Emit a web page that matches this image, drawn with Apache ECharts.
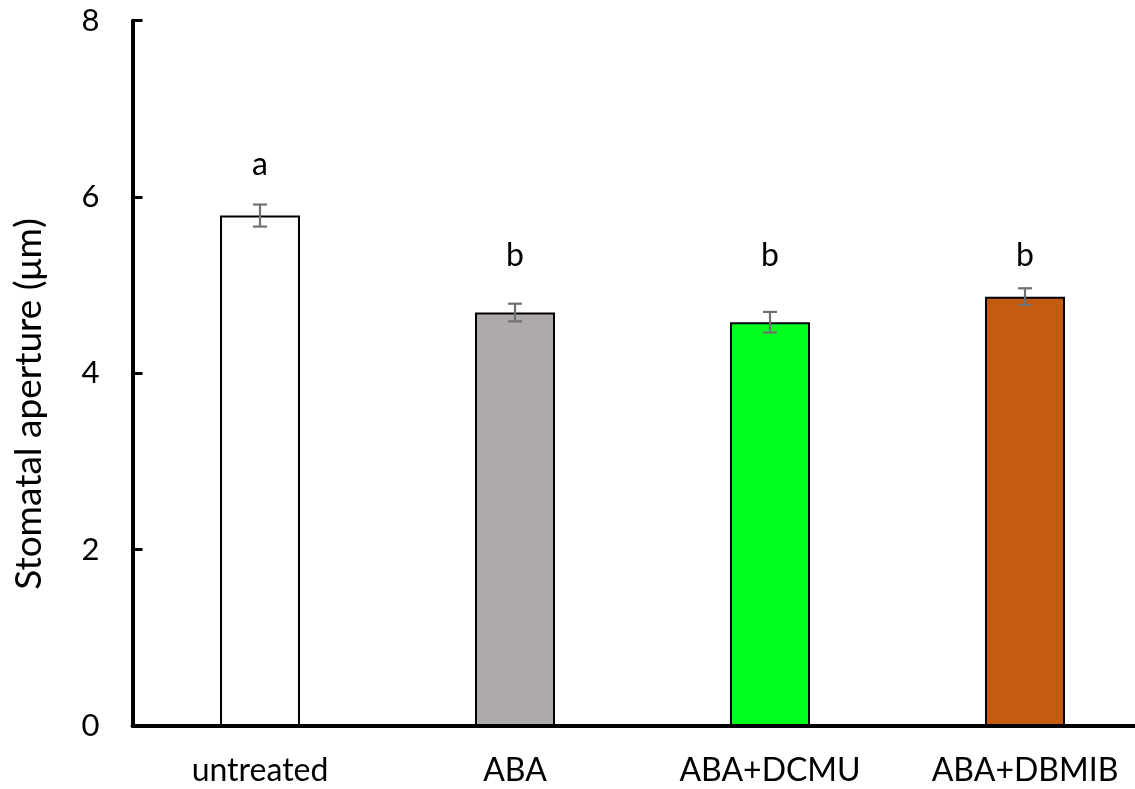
<!DOCTYPE html>
<html>
<head>
<meta charset="utf-8">
<script src="https://cdn.jsdelivr.net/npm/echarts@6/dist/echarts.min.js"></script>
<style>
html,body{margin:0;padding:0;background:#fff;}
#chart{width:1135px;height:789px;}
</style>
</head>
<body>
<div id="chart"></div>
<script>
var categories = ['untreated', 'ABA', 'ABA+DCMU', 'ABA+DBMIB'];
var values = [5.79, 4.69, 4.58, 4.87];
var errors = [0.125, 0.10, 0.117, 0.095];
var barColors = ['#FFFFFF', '#AEAAAA', '#00FF1F', '#C55A11'];
var letters = ['a', 'b', 'b', 'b'];
var letterY = [6.37, 5.34, 5.34, 5.34];
var yTicks = [0, 2, 4, 6, 8];

var FONT = 'Lato';
var chart = echarts.init(document.getElementById('chart'), null, {renderer: 'canvas'});

var option = {
  animation: false,
  backgroundColor: '#ffffff',
  grid: {left: 132.5, width: 1020, top: 20.7, bottom: 63, containLabel: false, outerBoundsMode: 'none'},
  xAxis: {
    type: 'category',
    data: categories,
    axisLine: {show: true, lineStyle: {color: '#000', width: 4}},
    axisTick: {show: false},
    axisLabel: {color: '#000', fontFamily: FONT, fontSize: 32, margin: 29}
  },
  yAxis: {
    type: 'value',
    min: yTicks[0],
    max: yTicks[yTicks.length - 1],
    interval: 2,
    axisLine: {show: true, lineStyle: {color: '#000', width: 4}},
    axisTick: {show: true, inside: true, length: 10, lineStyle: {color: '#000', width: 3}},
    axisLabel: {color: '#000', fontFamily: FONT, fontSize: 31, margin: 33},
    splitLine: {show: false}
  },
  graphic: [{
    type: 'text',
    x: 29, y: 404,
    rotation: Math.PI / 2,
    style: {
      text: 'Stomatal aperture (\u03bcm)',
      fill: '#000',
      font: '37px ' + FONT,
      align: 'center',
      verticalAlign: 'middle'
    }
  }],
  series: [
    {
      type: 'bar',
      barWidth: 80,
      data: values.map(function (v, i) {
        return {value: v, itemStyle: {color: barColors[i], borderColor: '#000', borderWidth: 2}};
      }),
      z: 2
    },
    {
      type: 'custom',
      z: 5,
      data: values.map(function (v, i) { return [i, v - errors[i], v + errors[i]]; }),
      renderItem: function (params, api) {
        var lo = api.coord([api.value(0), api.value(1)]);
        var hi = api.coord([api.value(0), api.value(2)]);
        var hw = 7;
        var st = {stroke: '#707070', lineWidth: 2.2};
        return {
          type: 'group',
          children: [
            {type: 'line', shape: {x1: lo[0], y1: lo[1], x2: hi[0], y2: hi[1]}, style: st},
            {type: 'line', shape: {x1: lo[0] - hw, y1: lo[1], x2: lo[0] + hw, y2: lo[1]}, style: st},
            {type: 'line', shape: {x1: hi[0] - hw, y1: hi[1], x2: hi[0] + hw, y2: hi[1]}, style: st}
          ]
        };
      }
    },
    {
      type: 'scatter',
      symbolSize: 0,
      z: 6,
      data: letterY.map(function (y, i) { return {value: [i, y], name: letters[i]}; }),
      label: {
        show: true,
        position: 'inside',
        formatter: function (p) { return p.name; },
        color: '#000',
        opacity: 1,
        fontFamily: FONT,
        fontSize: 32
      }
    }
  ]
};
chart.setOption(option);
</script>
</body>
</html>
